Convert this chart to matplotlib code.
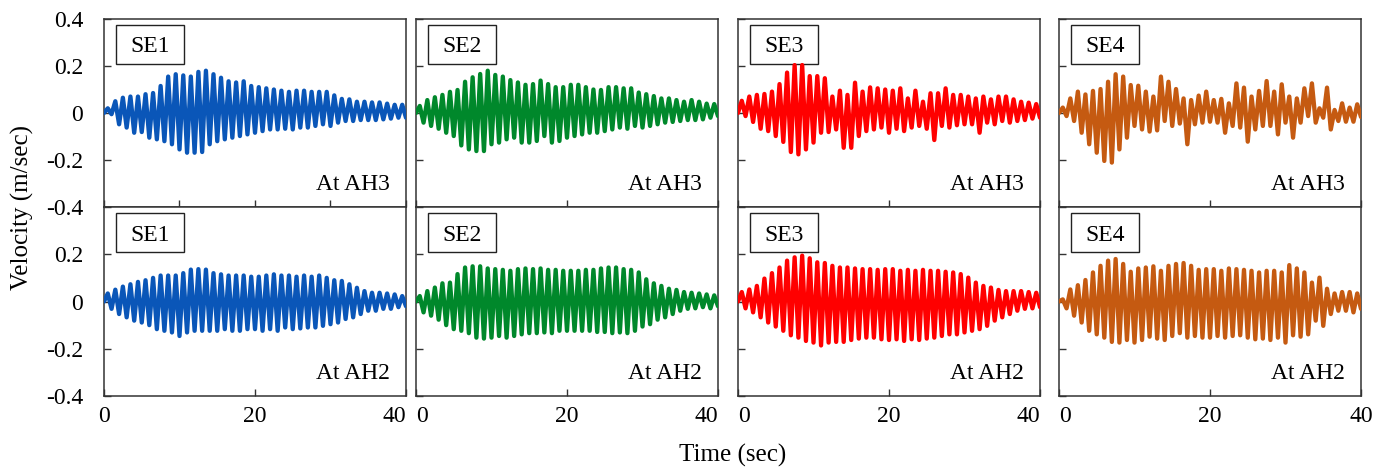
import numpy as np
import matplotlib
matplotlib.use('Agg')
import matplotlib.pyplot as plt
from matplotlib.patches import Rectangle

plt.rcParams['font.family'] = ['Liberation Serif', 'DejaVu Serif']

# peak (positive) and trough (negative) velocity of each cycle, m/sec
se1_ah3_pos = [0.02, 0.05, 0.065, 0.07, 0.07, 0.08, 0.085, 0.115, 0.155, 0.165, 0.16, 0.155, 0.175, 0.18, 0.165, 0.15, 0.135, 0.13, 0.135, 0.115,
               0.11, 0.105, 0.10, 0.095, 0.09, 0.095, 0.095, 0.09, 0.09, 0.09, 0.075, 0.06, 0.058, 0.048, 0.048, 0.045, 0.045, 0.04, 0.035, 0.035]
se1_ah3_neg = [-0.005, -0.048, -0.062, -0.084, -0.081, -0.105, -0.112, -0.12, -0.133, -0.155, -0.169, -0.169, -0.166, -0.133, -0.12, -0.112, -0.105, -0.098, -0.091, -0.084,
               -0.077, -0.07, -0.07, -0.067, -0.07, -0.062, -0.062, -0.055, -0.048, -0.055, -0.041, -0.034, -0.034, -0.03, -0.03, -0.03, -0.027, -0.024, -0.02, -0.02]
se1_ah2_pos = [0.034, 0.05, 0.063, 0.073, 0.083, 0.09, 0.10, 0.11, 0.11, 0.11, 0.12, 0.135, 0.137, 0.135, 0.12, 0.115, 0.11, 0.11, 0.11, 0.105,
               0.105, 0.11, 0.115, 0.11, 0.11, 0.105, 0.11, 0.105, 0.11, 0.10, 0.09, 0.087, 0.073, 0.058, 0.044, 0.037, 0.037, 0.034, 0.03, 0.023]
se1_ah2_neg = [-0.031, -0.053, -0.067, -0.081, -0.089, -0.10, -0.117, -0.124, -0.131, -0.146, -0.131, -0.124, -0.124, -0.124, -0.124, -0.117, -0.124, -0.124, -0.117, -0.117,
               -0.124, -0.117, -0.124, -0.11, -0.117, -0.114, -0.11, -0.11, -0.103, -0.096, -0.089, -0.074, -0.067, -0.053, -0.039, -0.039, -0.031, -0.031, -0.024, -0.02]

se2_ah3_pos = [0.03, 0.055, 0.067, 0.077, 0.09, 0.098, 0.133, 0.152, 0.166, 0.18, 0.162, 0.155, 0.14, 0.13, 0.12, 0.123, 0.138, 0.123, 0.11, 0.11,
               0.12, 0.12, 0.11, 0.10, 0.098, 0.11, 0.11, 0.105, 0.105, 0.087, 0.08, 0.072, 0.062, 0.062, 0.055, 0.048, 0.055, 0.048, 0.04, 0.038]
se2_ah3_neg = [-0.041, -0.055, -0.067, -0.084, -0.098, -0.138, -0.155, -0.162, -0.162, -0.133, -0.126, -0.112, -0.105, -0.126, -0.126, -0.119, -0.098, -0.126, -0.119, -0.105,
               -0.098, -0.091, -0.084, -0.084, -0.077, -0.07, -0.062, -0.067, -0.055, -0.062, -0.055, -0.048, -0.041, -0.038, -0.034, -0.03, -0.03, -0.027, -0.02, -0.013]
se2_ah2_pos = [0.023, 0.044, 0.059, 0.077, 0.08, 0.116, 0.144, 0.149, 0.149, 0.14, 0.137, 0.134, 0.13, 0.137, 0.14, 0.137, 0.14, 0.134, 0.134, 0.13,
               0.13, 0.13, 0.134, 0.134, 0.14, 0.144, 0.144, 0.137, 0.134, 0.123, 0.094, 0.077, 0.066, 0.054, 0.049, 0.04, 0.037, 0.034, 0.03, 0.026]
se2_ah2_neg = [-0.046, -0.06, -0.077, -0.10, -0.117, -0.124, -0.134, -0.153, -0.157, -0.153, -0.146, -0.153, -0.146, -0.139, -0.134, -0.134, -0.131, -0.134, -0.124, -0.124,
               -0.124, -0.124, -0.124, -0.129, -0.129, -0.134, -0.131, -0.134, -0.124, -0.106, -0.096, -0.077, -0.067, -0.053, -0.039, -0.031, -0.029, -0.024, -0.029, -0.02]

se3_ah3_pos = [0.052, 0.07, 0.077, 0.081, 0.091, 0.123, 0.172, 0.204, 0.204, 0.157, 0.157, 0.148, 0.07, 0.095, 0.077, 0.129, 0.091, 0.109, 0.105, 0.10,
               0.095, 0.105, 0.062, 0.095, 0.048, 0.084, 0.084, 0.105, 0.077, 0.077, 0.07, 0.062, 0.07, 0.058, 0.07, 0.07, 0.058, 0.048, 0.044, 0.038]
se3_ah3_neg = [-0.013, -0.038, -0.067, -0.077, -0.098, -0.123, -0.166, -0.176, -0.155, -0.126, -0.084, -0.081, -0.07, -0.148, -0.148, -0.098, -0.077, -0.07, -0.062, -0.084,
               -0.067, -0.077, -0.062, -0.055, -0.067, -0.115, -0.055, -0.062, -0.052, -0.048, -0.048, -0.084, -0.041, -0.048, -0.034, -0.041, -0.034, -0.03, -0.024, -0.02]
se3_ah2_pos = [0.04, 0.051, 0.066, 0.097, 0.12, 0.144, 0.173, 0.187, 0.194, 0.183, 0.166, 0.163, 0.151, 0.144, 0.144, 0.14, 0.137, 0.137, 0.134, 0.137,
               0.137, 0.13, 0.134, 0.13, 0.134, 0.13, 0.13, 0.126, 0.123, 0.116, 0.101, 0.08, 0.066, 0.059, 0.049, 0.044, 0.044, 0.044, 0.04, 0.037]
se3_ah2_neg = [-0.029, -0.046, -0.067, -0.089, -0.106, -0.124, -0.143, -0.153, -0.167, -0.174, -0.186, -0.174, -0.171, -0.171, -0.163, -0.157, -0.153, -0.153, -0.16, -0.163,
               -0.16, -0.167, -0.16, -0.163, -0.157, -0.153, -0.146, -0.139, -0.139, -0.131, -0.124, -0.117, -0.103, -0.081, -0.067, -0.053, -0.039, -0.031, -0.029, -0.024]

se4_ah3_pos = [0.023, 0.062, 0.091, 0.079, 0.094, 0.102, 0.133, 0.165, 0.155, 0.119, 0.116, 0.091, 0.07, 0.155, 0.133, 0.102, 0.062, 0.055, 0.074, 0.091,
               0.055, 0.06, 0.041, 0.126, 0.108, 0.07, 0.094, 0.136, 0.091, 0.122, 0.07, 0.062, 0.105, 0.126, 0.02, 0.108, 0.013, 0.041, 0.023, 0.037]
se4_ah3_neg = [-0.013, -0.034, -0.084, -0.133, -0.169, -0.204, -0.211, -0.155, -0.105, -0.055, -0.07, -0.079, -0.074, -0.034, -0.055, -0.045, -0.133, -0.048, -0.041, -0.037,
               -0.041, -0.084, -0.055, -0.062, -0.122, -0.07, -0.055, -0.055, -0.091, -0.041, -0.105, -0.041, -0.013, -0.041, -0.02, -0.07, -0.034, -0.037, -0.037, -0.017]
se4_ah2_pos = [0.009, 0.051, 0.069, 0.091, 0.123, 0.151, 0.173, 0.18, 0.159, 0.126, 0.14, 0.144, 0.149, 0.13, 0.151, 0.159, 0.163, 0.151, 0.134, 0.137,
               0.137, 0.13, 0.14, 0.137, 0.134, 0.13, 0.123, 0.13, 0.13, 0.123, 0.154, 0.14, 0.123, 0.08, 0.101, 0.054, 0.034, 0.04, 0.04, 0.034]
se4_ah2_neg = [-0.029, -0.06, -0.089, -0.124, -0.139, -0.153, -0.171, -0.174, -0.163, -0.174, -0.163, -0.149, -0.157, -0.163, -0.146, -0.134, -0.153, -0.146, -0.153, -0.153,
               -0.146, -0.153, -0.146, -0.143, -0.153, -0.16, -0.157, -0.163, -0.153, -0.174, -0.143, -0.149, -0.139, -0.081, -0.103, -0.053, -0.039, -0.039, -0.046, -0.031]

cases = ['SE1', 'SE2', 'SE3', 'SE4']
stations = ['At AH3', 'At AH2']
colors = ['#0A56B8', '#00882B', '#FF0000', '#C55A11']
records = [
    [(se1_ah3_pos, se1_ah3_neg), (se2_ah3_pos, se2_ah3_neg), (se3_ah3_pos, se3_ah3_neg), (se4_ah3_pos, se4_ah3_neg)],
    [(se1_ah2_pos, se1_ah2_neg), (se2_ah2_pos, se2_ah2_neg), (se3_ah2_pos, se3_ah2_neg), (se4_ah2_pos, se4_ah2_neg)],
]

W, H = 1391, 472
fig = plt.figure(figsize=(W / 100, H / 100), dpi=100)

col_left = [104, 416, 738, 1059]
col_w = 302
row_top = [19, 207]
row_h = [188, 189]
fs = 17

for r in range(2):
    for c in range(4):
        x0, y0 = col_left[c], row_top[r]
        h = row_h[r]
        ax = fig.add_axes([x0 / W, 1 - (y0 + h) / H, col_w / W, h / H])
        pos, neg = records[r][c]
        # alternate peak / trough, half a cycle apart
        v = [0.0]
        for p, n in zip(pos, neg):
            v += [p, n]
        t = np.linspace(0, 40, len(v))
        ax.plot(t, v, color=colors[c], lw=3.1, solid_joinstyle='round', solid_capstyle='round', zorder=3)

        ax.set_xlim(0, 40)
        ax.set_ylim(-0.4, 0.4)
        ax.set_yticks([-0.4, -0.2, 0, 0.2, 0.4])
        if r == 0 and c == 0:
            ax.set_xticks([0, 10, 20, 30, 40])
        else:
            ax.set_xticks([0, 20, 40])
        ax.tick_params(direction='in', length=5, width=1, color='#333333', labelsize=fs)
        ax.tick_params(axis='y', pad=15)
        ax.tick_params(axis='x', pad=7)
        for s in ax.spines.values():
            s.set_color('#333333')
            s.set_linewidth(1.1)

        if c == 0:
            ax.set_yticklabels(['-0.4', '-0.2', '0', '0.2', '0.4' if r == 0 else ''])
        else:
            ax.set_yticklabels([])
        if r == 1:
            labels = ax.set_xticklabels(['0', '20', '40'])
            if c > 0:
                labels[0].set_ha('left')
            if c < 3:
                labels[-1].set_ha('right')
        else:
            ax.set_xticklabels([])

        # boxed case name, 68 x 39 px, near the top-left corner
        bw, bh = 68 / col_w, 39 / h
        bx, by = 12 / col_w, 1 - (6 + 39) / h
        ax.add_patch(Rectangle((bx, by), bw, bh, transform=ax.transAxes, fc='white',
                               ec='#222222', lw=1.0, zorder=2))
        ax.text(bx + bw / 2, by + bh / 2, cases[c], transform=ax.transAxes, ha='center', va='center_baseline',
                fontsize=fs, zorder=2.5)
        ax.text(0.947, 0.09, stations[r], transform=ax.transAxes, ha='right', va='baseline', fontsize=fs)

fig.text(22 / W, 1 - 207 / H, 'Velocity (m/sec)', rotation=90, ha='center', va='center', fontsize=18)
fig.text(733 / W, 1 - 455 / H, 'Time (sec)', ha='center', va='center', fontsize=18)

fig.savefig('out.png', dpi=100)
